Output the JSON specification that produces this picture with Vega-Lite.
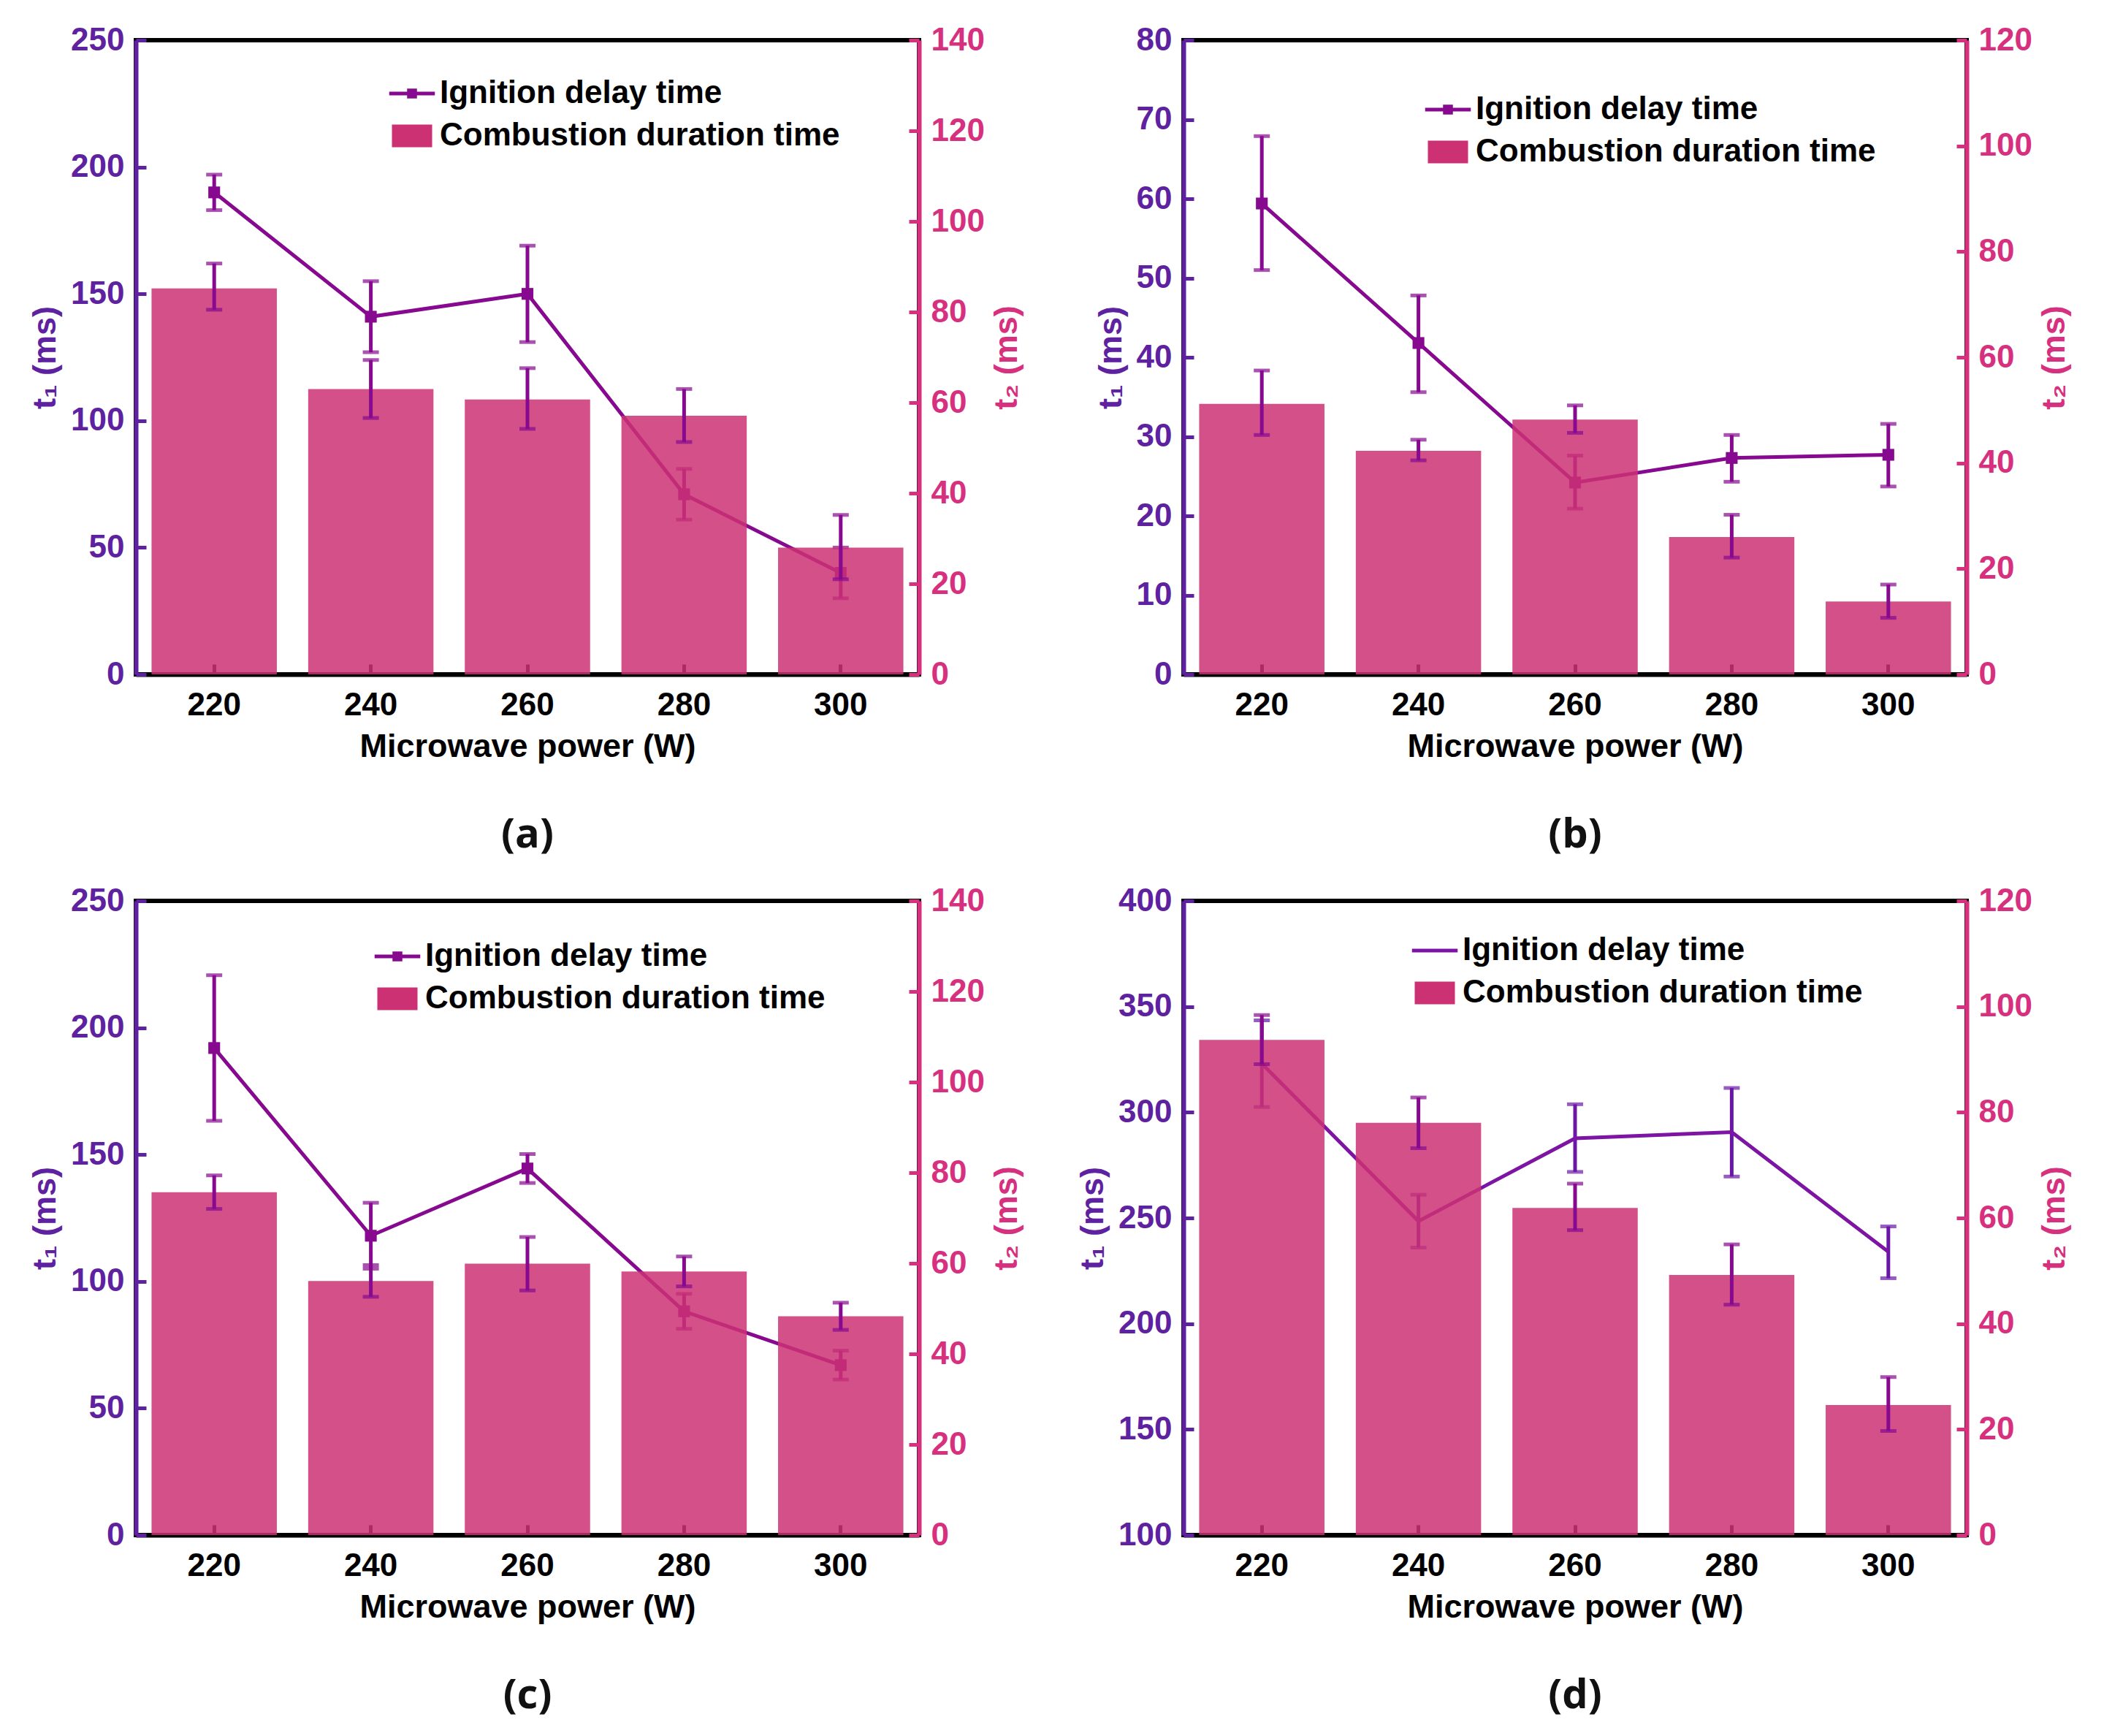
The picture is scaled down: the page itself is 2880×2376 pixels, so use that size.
{
  "$schema": "https://vega.github.io/schema/vega-lite/v6.json",
  "padding": {"left": 36, "top": 30, "right": 5, "bottom": 5},
  "data": {
    "values": [
      {"panel": "a", "power": "220", "t1": 190, "t1lo": 183, "t1hi": 197, "t2": 85.2, "t2lo": 80.5, "t2hi": 90.7},
      {"panel": "a", "power": "240", "t1": 141, "t1lo": 127, "t1hi": 155, "t2": 63, "t2lo": 56.6, "t2hi": 69.4},
      {"panel": "a", "power": "260", "t1": 150, "t1lo": 131, "t1hi": 169, "t2": 60.7, "t2lo": 54.2, "t2hi": 67.6},
      {"panel": "a", "power": "280", "t1": 71, "t1lo": 61, "t1hi": 81, "t2": 57.1, "t2lo": 51.3, "t2hi": 63},
      {"panel": "a", "power": "300", "t1": 40, "t1lo": 30, "t1hi": 50, "t2": 28, "t2lo": 21, "t2hi": 35.2},
      {"panel": "b", "power": "220", "t1": 59.4, "t1lo": 51, "t1hi": 67.9, "t2": 51.2, "t2lo": 45.3, "t2hi": 57.5},
      {"panel": "b", "power": "240", "t1": 41.8, "t1lo": 35.6, "t1hi": 47.8, "t2": 42.3, "t2lo": 40.5, "t2hi": 44.4},
      {"panel": "b", "power": "260", "t1": 24.2, "t1lo": 20.9, "t1hi": 27.6, "t2": 48.2, "t2lo": 45.7, "t2hi": 50.9},
      {"panel": "b", "power": "280", "t1": 27.3, "t1lo": 24.3, "t1hi": 30.2, "t2": 26, "t2lo": 22.1, "t2hi": 30.2},
      {"panel": "b", "power": "300", "t1": 27.7, "t1lo": 23.7, "t1hi": 31.6, "t2": 13.8, "t2lo": 10.7, "t2hi": 17},
      {"panel": "c", "power": "220", "t1": 192, "t1lo": 163.3, "t1hi": 220.7, "t2": 75.7, "t2lo": 72, "t2hi": 79.4},
      {"panel": "c", "power": "240", "t1": 118, "t1lo": 105, "t1hi": 131, "t2": 56.1, "t2lo": 52.6, "t2hi": 59.6},
      {"panel": "c", "power": "260", "t1": 144.5, "t1lo": 138.8, "t1hi": 150.2, "t2": 59.9, "t2lo": 54, "t2hi": 65.8},
      {"panel": "c", "power": "280", "t1": 88.2, "t1lo": 81.3, "t1hi": 95.1, "t2": 58.2, "t2lo": 54.9, "t2hi": 61.5},
      {"panel": "c", "power": "300", "t1": 67, "t1lo": 61.3, "t1hi": 72.7, "t2": 48.3, "t2lo": 45.3, "t2hi": 51.3},
      {"panel": "d", "power": "220", "t1": 323, "t1lo": 302.5, "t1hi": 343.5, "t2": 93.7, "t2lo": 89.1, "t2hi": 98.4},
      {"panel": "d", "power": "240", "t1": 248.5, "t1lo": 236, "t1hi": 261, "t2": 78, "t2lo": 73.2, "t2hi": 82.8},
      {"panel": "d", "power": "260", "t1": 287.7, "t1lo": 271.8, "t1hi": 303.8, "t2": 61.9, "t2lo": 57.7, "t2hi": 66.5},
      {"panel": "d", "power": "280", "t1": 290.6, "t1lo": 269.6, "t1hi": 311.5, "t2": 49.2, "t2lo": 43.6, "t2hi": 55},
      {"panel": "d", "power": "300", "t1": 234, "t1lo": 221.5, "t1hi": 246, "t2": 24.6, "t2lo": 19.7, "t2hi": 29.9}
    ]
  },
  "columns": 2,
  "spacing": {"row": 34, "column": 66},
  "concat": [
    {
      "width": 1072,
      "height": 868,
      "title": {"text": "(a)", "orient": "bottom", "anchor": "middle", "frame": "group"},
      "transform": [{"filter": "datum.panel === 'a'"}],
      "encoding": {
        "x": {"field": "power", "type": "ordinal", "title": "Microwave power (W)", "scale": {"paddingInner": 0.2, "paddingOuter": 0.1}}
      },
      "layer": [
        {
          "layer": [
            {
              "mark": {"type": "errorbar", "color": "#86098F", "thickness": 5, "ticks": {"size": 22, "thickness": 5, "color": "#86098F"}},
              "encoding": {
                "y": {"field": "t1lo", "type": "quantitative", "title": "t₁ (ms)", "scale": {"domain": [0, 250], "nice": false}, "axis": {"values": [0, 50, 100, 150, 200, 250]}},
                "y2": {"field": "t1hi"}
              }
            },
            {
              "mark": {"type": "line", "strokeWidth": 5},
              "encoding": {
                "y": {"field": "t1", "type": "quantitative", "title": "t₁ (ms)", "scale": {"domain": [0, 250], "nice": false}, "axis": {"values": [0, 50, 100, 150, 200, 250]}},
                "color": {
                  "datum": "Ignition delay time",
                  "scale": {"domain": ["Ignition delay time", "Combustion duration time"], "range": ["#86098F", "#CC3174"]},
                  "legend": {
                    "title": null, "orient": "none", "legendX": 356, "legendY": 51,
                    "symbolType": {"expr": "datum.value === 'Ignition delay time' ? 'M-1.25,0H1.25M-0.17,-0.17H0.17V0.17H-0.17Z' : 'M-1.1,-0.62H1.1V0.62H-1.1Z'"},
                    "symbolFillColor": {"expr": "datum.value === 'Ignition delay time' ? '#86098F' : '#D45089'"},
                    "symbolStrokeColor": {"expr": "datum.value === 'Ignition delay time' ? '#86098F' : '#D45089'"},
                    "symbolStrokeWidth": {"expr": "datum.value === 'Ignition delay time' ? 5 : 0"}
                  }
                }
              }
            },
            {
              "mark": {"type": "point", "shape": "square", "filled": true, "size": 260, "opacity": 1, "color": "#86098F"},
              "encoding": {
                "y": {"field": "t1", "type": "quantitative", "title": "t₁ (ms)", "scale": {"domain": [0, 250], "nice": false}, "axis": {"values": [0, 50, 100, 150, 200, 250]}}
              }
            }
          ]
        },
        {
          "layer": [
            {
              "mark": {"type": "bar", "opacity": 0.85},
              "encoding": {
                "y": {"field": "t2", "type": "quantitative", "title": "t₂ (ms)", "scale": {"domain": [0, 140], "nice": false}, "axis": {"orient": "right", "values": [0, 20, 40, 60, 80, 100, 120, 140]}},
                "color": {
                  "datum": "Combustion duration time",
                  "scale": {"domain": ["Ignition delay time", "Combustion duration time"], "range": ["#86098F", "#CC3174"]},
                  "legend": {
                    "title": null, "orient": "none", "legendX": 356, "legendY": 51,
                    "symbolType": {"expr": "datum.value === 'Ignition delay time' ? 'M-1.25,0H1.25M-0.17,-0.17H0.17V0.17H-0.17Z' : 'M-1.1,-0.62H1.1V0.62H-1.1Z'"},
                    "symbolFillColor": {"expr": "datum.value === 'Ignition delay time' ? '#86098F' : '#D45089'"},
                    "symbolStrokeColor": {"expr": "datum.value === 'Ignition delay time' ? '#86098F' : '#D45089'"},
                    "symbolStrokeWidth": {"expr": "datum.value === 'Ignition delay time' ? 5 : 0"}
                  }
                }
              }
            },
            {
              "mark": {"type": "errorbar", "color": "#86098F", "thickness": 5, "ticks": {"size": 22, "thickness": 5, "color": "#86098F"}},
              "encoding": {
                "y": {"field": "t2lo", "type": "quantitative", "title": "t₂ (ms)", "scale": {"domain": [0, 140], "nice": false}, "axis": {"orient": "right", "values": [0, 20, 40, 60, 80, 100, 120, 140]}},
                "y2": {"field": "t2hi"}
              }
            }
          ]
        }
      ],
      "resolve": {"scale": {"y": "independent"}}
    },
    {
      "width": 1072,
      "height": 868,
      "title": {"text": "(b)", "orient": "bottom", "anchor": "middle", "frame": "group"},
      "transform": [{"filter": "datum.panel === 'b'"}],
      "encoding": {
        "x": {"field": "power", "type": "ordinal", "title": "Microwave power (W)", "scale": {"paddingInner": 0.2, "paddingOuter": 0.1}}
      },
      "layer": [
        {
          "layer": [
            {
              "mark": {"type": "errorbar", "color": "#86098F", "thickness": 5, "ticks": {"size": 22, "thickness": 5, "color": "#86098F"}},
              "encoding": {
                "y": {"field": "t1lo", "type": "quantitative", "title": "t₁ (ms)", "scale": {"domain": [0, 80], "nice": false}, "axis": {"values": [0, 10, 20, 30, 40, 50, 60, 70, 80]}},
                "y2": {"field": "t1hi"}
              }
            },
            {
              "mark": {"type": "line", "strokeWidth": 5},
              "encoding": {
                "y": {"field": "t1", "type": "quantitative", "title": "t₁ (ms)", "scale": {"domain": [0, 80], "nice": false}, "axis": {"values": [0, 10, 20, 30, 40, 50, 60, 70, 80]}},
                "color": {
                  "datum": "Ignition delay time",
                  "scale": {"domain": ["Ignition delay time", "Combustion duration time"], "range": ["#86098F", "#CC3174"]},
                  "legend": {
                    "title": null, "orient": "none", "legendX": 340, "legendY": 73,
                    "symbolType": {"expr": "datum.value === 'Ignition delay time' ? 'M-1.25,0H1.25M-0.17,-0.17H0.17V0.17H-0.17Z' : 'M-1.1,-0.62H1.1V0.62H-1.1Z'"},
                    "symbolFillColor": {"expr": "datum.value === 'Ignition delay time' ? '#86098F' : '#D45089'"},
                    "symbolStrokeColor": {"expr": "datum.value === 'Ignition delay time' ? '#86098F' : '#D45089'"},
                    "symbolStrokeWidth": {"expr": "datum.value === 'Ignition delay time' ? 5 : 0"}
                  }
                }
              }
            },
            {
              "mark": {"type": "point", "shape": "square", "filled": true, "size": 260, "opacity": 1, "color": "#86098F"},
              "encoding": {
                "y": {"field": "t1", "type": "quantitative", "title": "t₁ (ms)", "scale": {"domain": [0, 80], "nice": false}, "axis": {"values": [0, 10, 20, 30, 40, 50, 60, 70, 80]}}
              }
            }
          ]
        },
        {
          "layer": [
            {
              "mark": {"type": "bar", "opacity": 0.85},
              "encoding": {
                "y": {"field": "t2", "type": "quantitative", "title": "t₂ (ms)", "scale": {"domain": [0, 120], "nice": false}, "axis": {"orient": "right", "values": [0, 20, 40, 60, 80, 100, 120]}},
                "color": {
                  "datum": "Combustion duration time",
                  "scale": {"domain": ["Ignition delay time", "Combustion duration time"], "range": ["#86098F", "#CC3174"]},
                  "legend": {
                    "title": null, "orient": "none", "legendX": 340, "legendY": 73,
                    "symbolType": {"expr": "datum.value === 'Ignition delay time' ? 'M-1.25,0H1.25M-0.17,-0.17H0.17V0.17H-0.17Z' : 'M-1.1,-0.62H1.1V0.62H-1.1Z'"},
                    "symbolFillColor": {"expr": "datum.value === 'Ignition delay time' ? '#86098F' : '#D45089'"},
                    "symbolStrokeColor": {"expr": "datum.value === 'Ignition delay time' ? '#86098F' : '#D45089'"},
                    "symbolStrokeWidth": {"expr": "datum.value === 'Ignition delay time' ? 5 : 0"}
                  }
                }
              }
            },
            {
              "mark": {"type": "errorbar", "color": "#86098F", "thickness": 5, "ticks": {"size": 22, "thickness": 5, "color": "#86098F"}},
              "encoding": {
                "y": {"field": "t2lo", "type": "quantitative", "title": "t₂ (ms)", "scale": {"domain": [0, 120], "nice": false}, "axis": {"orient": "right", "values": [0, 20, 40, 60, 80, 100, 120]}},
                "y2": {"field": "t2hi"}
              }
            }
          ]
        }
      ],
      "resolve": {"scale": {"y": "independent"}}
    },
    {
      "width": 1072,
      "height": 868,
      "title": {"text": "(c)", "orient": "bottom", "anchor": "middle", "frame": "group"},
      "transform": [{"filter": "datum.panel === 'c'"}],
      "encoding": {
        "x": {"field": "power", "type": "ordinal", "title": "Microwave power (W)", "scale": {"paddingInner": 0.2, "paddingOuter": 0.1}}
      },
      "layer": [
        {
          "layer": [
            {
              "mark": {"type": "errorbar", "color": "#86098F", "thickness": 5, "ticks": {"size": 22, "thickness": 5, "color": "#86098F"}},
              "encoding": {
                "y": {"field": "t1lo", "type": "quantitative", "title": "t₁ (ms)", "scale": {"domain": [0, 250], "nice": false}, "axis": {"values": [0, 50, 100, 150, 200, 250]}},
                "y2": {"field": "t1hi"}
              }
            },
            {
              "mark": {"type": "line", "strokeWidth": 5},
              "encoding": {
                "y": {"field": "t1", "type": "quantitative", "title": "t₁ (ms)", "scale": {"domain": [0, 250], "nice": false}, "axis": {"values": [0, 50, 100, 150, 200, 250]}},
                "color": {
                  "datum": "Ignition delay time",
                  "scale": {"domain": ["Ignition delay time", "Combustion duration time"], "range": ["#86098F", "#CC3174"]},
                  "legend": {
                    "title": null, "orient": "none", "legendX": 336, "legendY": 54,
                    "symbolType": {"expr": "datum.value === 'Ignition delay time' ? 'M-1.25,0H1.25M-0.17,-0.17H0.17V0.17H-0.17Z' : 'M-1.1,-0.62H1.1V0.62H-1.1Z'"},
                    "symbolFillColor": {"expr": "datum.value === 'Ignition delay time' ? '#86098F' : '#D45089'"},
                    "symbolStrokeColor": {"expr": "datum.value === 'Ignition delay time' ? '#86098F' : '#D45089'"},
                    "symbolStrokeWidth": {"expr": "datum.value === 'Ignition delay time' ? 5 : 0"}
                  }
                }
              }
            },
            {
              "mark": {"type": "point", "shape": "square", "filled": true, "size": 260, "opacity": 1, "color": "#86098F"},
              "encoding": {
                "y": {"field": "t1", "type": "quantitative", "title": "t₁ (ms)", "scale": {"domain": [0, 250], "nice": false}, "axis": {"values": [0, 50, 100, 150, 200, 250]}}
              }
            }
          ]
        },
        {
          "layer": [
            {
              "mark": {"type": "bar", "opacity": 0.85},
              "encoding": {
                "y": {"field": "t2", "type": "quantitative", "title": "t₂ (ms)", "scale": {"domain": [0, 140], "nice": false}, "axis": {"orient": "right", "values": [0, 20, 40, 60, 80, 100, 120, 140]}},
                "color": {
                  "datum": "Combustion duration time",
                  "scale": {"domain": ["Ignition delay time", "Combustion duration time"], "range": ["#86098F", "#CC3174"]},
                  "legend": {
                    "title": null, "orient": "none", "legendX": 336, "legendY": 54,
                    "symbolType": {"expr": "datum.value === 'Ignition delay time' ? 'M-1.25,0H1.25M-0.17,-0.17H0.17V0.17H-0.17Z' : 'M-1.1,-0.62H1.1V0.62H-1.1Z'"},
                    "symbolFillColor": {"expr": "datum.value === 'Ignition delay time' ? '#86098F' : '#D45089'"},
                    "symbolStrokeColor": {"expr": "datum.value === 'Ignition delay time' ? '#86098F' : '#D45089'"},
                    "symbolStrokeWidth": {"expr": "datum.value === 'Ignition delay time' ? 5 : 0"}
                  }
                }
              }
            },
            {
              "mark": {"type": "errorbar", "color": "#86098F", "thickness": 5, "ticks": {"size": 22, "thickness": 5, "color": "#86098F"}},
              "encoding": {
                "y": {"field": "t2lo", "type": "quantitative", "title": "t₂ (ms)", "scale": {"domain": [0, 140], "nice": false}, "axis": {"orient": "right", "values": [0, 20, 40, 60, 80, 100, 120, 140]}},
                "y2": {"field": "t2hi"}
              }
            }
          ]
        }
      ],
      "resolve": {"scale": {"y": "independent"}}
    },
    {
      "width": 1072,
      "height": 868,
      "title": {"text": "(d)", "orient": "bottom", "anchor": "middle", "frame": "group"},
      "transform": [{"filter": "datum.panel === 'd'"}],
      "encoding": {
        "x": {"field": "power", "type": "ordinal", "title": "Microwave power (W)", "scale": {"paddingInner": 0.2, "paddingOuter": 0.1}}
      },
      "layer": [
        {
          "layer": [
            {
              "mark": {"type": "errorbar", "color": "#6A17A8", "thickness": 5, "ticks": {"size": 22, "thickness": 5, "color": "#6A17A8"}},
              "encoding": {
                "y": {"field": "t1lo", "type": "quantitative", "title": "t₁ (ms)", "scale": {"domain": [100, 400], "nice": false, "zero": false}, "axis": {"values": [100, 150, 200, 250, 300, 350, 400]}},
                "y2": {"field": "t1hi"}
              }
            },
            {
              "mark": {"type": "line", "strokeWidth": 5},
              "encoding": {
                "y": {"field": "t1", "type": "quantitative", "title": "t₁ (ms)", "scale": {"domain": [100, 400], "nice": false, "zero": false}, "axis": {"values": [100, 150, 200, 250, 300, 350, 400]}},
                "color": {
                  "datum": "Ignition delay time",
                  "scale": {"domain": ["Ignition delay time", "Combustion duration time"], "range": ["#7D14A3", "#CC3174"]},
                  "legend": {
                    "title": null, "orient": "none", "legendX": 322, "legendY": 46,
                    "symbolType": {"expr": "datum.value === 'Ignition delay time' ? 'M-1.25,0H1.25' : 'M-1.1,-0.62H1.1V0.62H-1.1Z'"},
                    "symbolFillColor": {"expr": "datum.value === 'Ignition delay time' ? '#7D14A3' : '#D45089'"},
                    "symbolStrokeColor": {"expr": "datum.value === 'Ignition delay time' ? '#7D14A3' : '#D45089'"},
                    "symbolStrokeWidth": {"expr": "datum.value === 'Ignition delay time' ? 5 : 0"}
                  }
                }
              }
            }
          ]
        },
        {
          "layer": [
            {
              "mark": {"type": "bar", "opacity": 0.85},
              "encoding": {
                "y": {"field": "t2", "type": "quantitative", "title": "t₂ (ms)", "scale": {"domain": [0, 120], "nice": false}, "axis": {"orient": "right", "values": [0, 20, 40, 60, 80, 100, 120]}},
                "color": {
                  "datum": "Combustion duration time",
                  "scale": {"domain": ["Ignition delay time", "Combustion duration time"], "range": ["#7D14A3", "#CC3174"]},
                  "legend": {
                    "title": null, "orient": "none", "legendX": 322, "legendY": 46,
                    "symbolType": {"expr": "datum.value === 'Ignition delay time' ? 'M-1.25,0H1.25' : 'M-1.1,-0.62H1.1V0.62H-1.1Z'"},
                    "symbolFillColor": {"expr": "datum.value === 'Ignition delay time' ? '#7D14A3' : '#D45089'"},
                    "symbolStrokeColor": {"expr": "datum.value === 'Ignition delay time' ? '#7D14A3' : '#D45089'"},
                    "symbolStrokeWidth": {"expr": "datum.value === 'Ignition delay time' ? 5 : 0"}
                  }
                }
              }
            },
            {
              "mark": {"type": "errorbar", "color": "#86098F", "thickness": 5, "ticks": {"size": 22, "thickness": 5, "color": "#86098F"}},
              "encoding": {
                "y": {"field": "t2lo", "type": "quantitative", "title": "t₂ (ms)", "scale": {"domain": [0, 120], "nice": false}, "axis": {"orient": "right", "values": [0, 20, 40, 60, 80, 100, 120]}},
                "y2": {"field": "t2hi"}
              }
            }
          ]
        }
      ],
      "resolve": {"scale": {"y": "independent"}}
    }
  ],
  "resolve": {"scale": {"color": "independent"}, "legend": {"color": "independent"}},
  "config": {
    "font": "Liberation Sans",
    "view": {"stroke": "#000000", "strokeWidth": 6},
    "title": {"font": "Open Sans", "fontSize": 56, "fontWeight": "bold", "color": "#111111", "offset": 72},
    "axis": {
      "grid": false,
      "labelFont": "Liberation Sans",
      "labelFontSize": 44,
      "labelFontWeight": "bold",
      "titleFont": "Liberation Sans",
      "titleFontSize": 45,
      "titleFontWeight": "bold",
      "domainWidth": 6,
      "tickWidth": 5,
      "tickSize": -14,
      "labelPadding": 30,
      "titlePadding": 12
    },
    "axisX": {"domainColor": "#000000", "tickColor": "#000000", "labelColor": "#000000", "titleColor": "#000000", "labelAngle": 0, "labelPadding": 34, "titlePadding": 12},
    "axisLeft": {"domainColor": "#5E22A0", "tickColor": "#5E22A0", "labelColor": "#5E22A0", "titleColor": "#5E22A0"},
    "axisRight": {"domainColor": "#D6307E", "tickColor": "#D6307E", "labelColor": "#D6307E", "titleColor": "#D6307E", "titleAngle": 270, "titleBaseline": "top", "titlePadding": 8},
    "legend": {"labelFont": "Liberation Sans", "labelFontSize": 44, "labelFontWeight": "bold", "labelColor": "#000000", "labelLimit": 0, "labelExpr": "datum.value === 'Combustion duration time' ? ' ' + datum.label : datum.label", "symbolSize": 2500, "rowPadding": 14, "labelOffset": 16, "symbolOpacity": 1}
  }
}
